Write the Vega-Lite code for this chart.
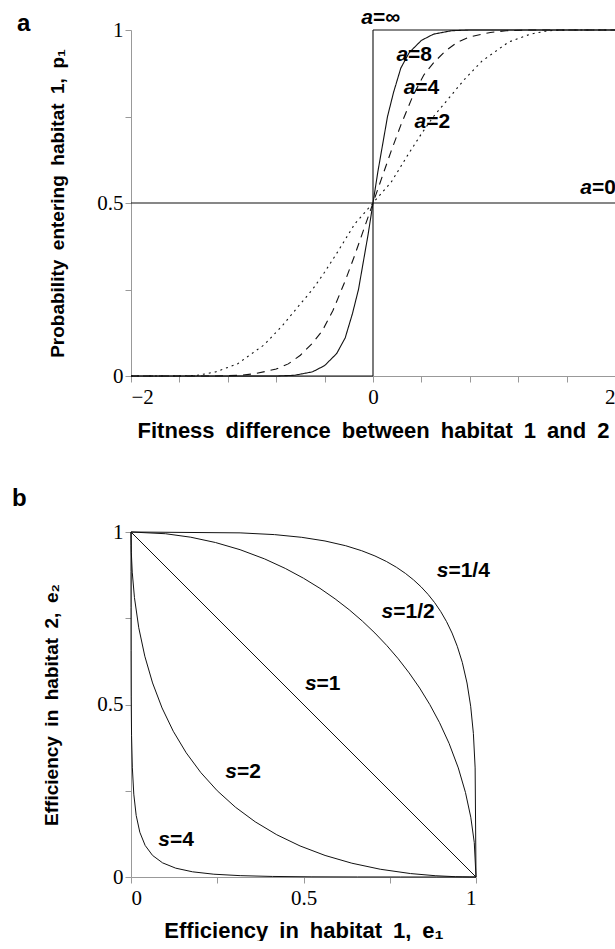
{
  "$schema": "https://vega.github.io/schema/vega-lite/v6.json",
  "padding": {"left": 12, "top": 6, "right": 0, "bottom": 0},
  "spacing": 46,
  "align": "none",
  "background": "white",
  "config": {
    "view": {"stroke": null},
    "axis": {"grid": false, "domainColor": "#999", "tickColor": "#999", "tickSize": 6, "labelFont": "Liberation Serif", "labelFontSize": 21, "labelColor": "#000", "titleFont": "Liberation Sans", "titleFontSize": 19, "titleFontWeight": "bold", "titleColor": "#000", "labelPadding": 2},
    "title": {"font": "Liberation Sans", "fontSize": 24, "fontWeight": "bold", "color": "#000", "anchor": "start", "frame": "group"}
  },
  "datasets": {
    "A": [
      {"c":"inf","d":-2,"p":0,"i":0},{"c":"inf","d":0,"p":0,"i":1},{"c":"inf","d":0,"p":1,"i":2},{"c":"inf","d":2,"p":1,"i":3},
      {"c":"0","d":-2,"p":0.5,"i":0},{"c":"0","d":2,"p":0.5,"i":1},
      {"c":"8","d":-2,"p":0,"i":0},{"c":"8","d":-0.8,"p":0,"i":1},{"c":"8","d":-0.65,"p":0.002,"i":2},{"c":"8","d":-0.5,"p":0.012,"i":3},{"c":"8","d":-0.4,"p":0.03,"i":4},{"c":"8","d":-0.3,"p":0.065,"i":5},{"c":"8","d":-0.23,"p":0.11,"i":6},{"c":"8","d":-0.17,"p":0.18,"i":7},{"c":"8","d":-0.12,"p":0.25,"i":8},{"c":"8","d":-0.08,"p":0.33,"i":9},{"c":"8","d":-0.04,"p":0.41,"i":10},{"c":"8","d":0,"p":0.5,"i":11},{"c":"8","d":0.04,"p":0.59,"i":12},{"c":"8","d":0.08,"p":0.67,"i":13},{"c":"8","d":0.12,"p":0.75,"i":14},{"c":"8","d":0.17,"p":0.82,"i":15},{"c":"8","d":0.23,"p":0.89,"i":16},{"c":"8","d":0.3,"p":0.935,"i":17},{"c":"8","d":0.4,"p":0.97,"i":18},{"c":"8","d":0.5,"p":0.988,"i":19},{"c":"8","d":0.65,"p":0.998,"i":20},{"c":"8","d":0.8,"p":1,"i":21},{"c":"8","d":2,"p":1,"i":22},
      {"c":"4","d":-2,"p":0,"i":0},{"c":"4","d":-1.3,"p":0,"i":1},{"c":"4","d":-1.1,"p":0.002,"i":2},{"c":"4","d":-0.97,"p":0.007,"i":3},{"c":"4","d":-0.8,"p":0.02,"i":4},{"c":"4","d":-0.7,"p":0.035,"i":5},{"c":"4","d":-0.6,"p":0.06,"i":6},{"c":"4","d":-0.5,"p":0.095,"i":7},{"c":"4","d":-0.42,"p":0.13,"i":8},{"c":"4","d":-0.33,"p":0.19,"i":9},{"c":"4","d":-0.23,"p":0.275,"i":10},{"c":"4","d":-0.15,"p":0.35,"i":11},{"c":"4","d":-0.08,"p":0.42,"i":12},{"c":"4","d":0,"p":0.5,"i":13},{"c":"4","d":0.08,"p":0.58,"i":14},{"c":"4","d":0.15,"p":0.65,"i":15},{"c":"4","d":0.23,"p":0.725,"i":16},{"c":"4","d":0.33,"p":0.81,"i":17},{"c":"4","d":0.42,"p":0.87,"i":18},{"c":"4","d":0.5,"p":0.905,"i":19},{"c":"4","d":0.6,"p":0.94,"i":20},{"c":"4","d":0.7,"p":0.965,"i":21},{"c":"4","d":0.8,"p":0.98,"i":22},{"c":"4","d":0.97,"p":0.993,"i":23},{"c":"4","d":1.1,"p":0.998,"i":24},{"c":"4","d":1.3,"p":1,"i":25},{"c":"4","d":2,"p":1,"i":26},
      {"c":"2","d":-2,"p":0,"i":0},{"c":"2","d":-1.6,"p":0,"i":1},{"c":"2","d":-1.45,"p":0.002,"i":2},{"c":"2","d":-1.3,"p":0.012,"i":3},{"c":"2","d":-1.12,"p":0.035,"i":4},{"c":"2","d":-0.9,"p":0.09,"i":5},{"c":"2","d":-0.75,"p":0.145,"i":6},{"c":"2","d":-0.62,"p":0.2,"i":7},{"c":"2","d":-0.5,"p":0.25,"i":8},{"c":"2","d":-0.4,"p":0.3,"i":9},{"c":"2","d":-0.29,"p":0.36,"i":10},{"c":"2","d":-0.15,"p":0.44,"i":11},{"c":"2","d":0,"p":0.5,"i":12},{"c":"2","d":0.15,"p":0.56,"i":13},{"c":"2","d":0.29,"p":0.64,"i":14},{"c":"2","d":0.4,"p":0.7,"i":15},{"c":"2","d":0.5,"p":0.75,"i":16},{"c":"2","d":0.62,"p":0.8,"i":17},{"c":"2","d":0.75,"p":0.855,"i":18},{"c":"2","d":0.9,"p":0.91,"i":19},{"c":"2","d":1.12,"p":0.965,"i":20},{"c":"2","d":1.3,"p":0.988,"i":21},{"c":"2","d":1.45,"p":0.998,"i":22},{"c":"2","d":1.6,"p":1,"i":23},{"c":"2","d":2,"p":1,"i":24}
    ],
    "LA": [
      {"v":"a","r":"=∞","d":0,"p":1.035},
      {"v":"a","r":"=8","d":0.29,"p":0.928},
      {"v":"a","r":"=4","d":0.35,"p":0.832},
      {"v":"a","r":"=2","d":0.44,"p":0.734},
      {"v":"a","r":"=0","d":1.81,"p":0.543}
    ],
    "B": [
      {"s":"1","e1":0,"e2":1,"i":0},{"s":"1","e1":1,"e2":0,"i":1},
      {"s":"2","e1":0,"e2":1,"i":0},{"s":"2","e1":0.0001,"e2":0.9801,"i":1},{"s":"2","e1":0.0009,"e2":0.9409,"i":2},{"s":"2","e1":0.0036,"e2":0.8836,"i":3},{"s":"2","e1":0.01,"e2":0.81,"i":4},{"s":"2","e1":0.0225,"e2":0.7225,"i":5},{"s":"2","e1":0.04,"e2":0.64,"i":6},{"s":"2","e1":0.0625,"e2":0.5625,"i":7},{"s":"2","e1":0.09,"e2":0.49,"i":8},{"s":"2","e1":0.1225,"e2":0.4225,"i":9},{"s":"2","e1":0.16,"e2":0.36,"i":10},{"s":"2","e1":0.2025,"e2":0.3025,"i":11},{"s":"2","e1":0.25,"e2":0.25,"i":12},{"s":"2","e1":0.3025,"e2":0.2025,"i":13},{"s":"2","e1":0.36,"e2":0.16,"i":14},{"s":"2","e1":0.4225,"e2":0.1225,"i":15},{"s":"2","e1":0.49,"e2":0.09,"i":16},{"s":"2","e1":0.5625,"e2":0.0625,"i":17},{"s":"2","e1":0.64,"e2":0.04,"i":18},{"s":"2","e1":0.7225,"e2":0.0225,"i":19},{"s":"2","e1":0.81,"e2":0.01,"i":20},{"s":"2","e1":0.8836,"e2":0.0036,"i":21},{"s":"2","e1":0.9409,"e2":0.0009,"i":22},{"s":"2","e1":0.9801,"e2":0.0001,"i":23},{"s":"2","e1":1,"e2":0,"i":24},
      {"s":"4","e1":0,"e2":1,"i":0},{"s":"4","e1":0.00000001,"e2":0.9606,"i":1},{"s":"4","e1":0.00000081,"e2":0.8853,"i":2},{"s":"4","e1":0.000013,"e2":0.7807,"i":3},{"s":"4","e1":0.0001,"e2":0.6561,"i":4},{"s":"4","e1":0.000506,"e2":0.522,"i":5},{"s":"4","e1":0.0016,"e2":0.4096,"i":6},{"s":"4","e1":0.0039,"e2":0.3164,"i":7},{"s":"4","e1":0.0081,"e2":0.2401,"i":8},{"s":"4","e1":0.015,"e2":0.1785,"i":9},{"s":"4","e1":0.0256,"e2":0.1296,"i":10},{"s":"4","e1":0.041,"e2":0.0915,"i":11},{"s":"4","e1":0.0625,"e2":0.0625,"i":12},{"s":"4","e1":0.0915,"e2":0.041,"i":13},{"s":"4","e1":0.1296,"e2":0.0256,"i":14},{"s":"4","e1":0.1785,"e2":0.015,"i":15},{"s":"4","e1":0.2401,"e2":0.0081,"i":16},{"s":"4","e1":0.3164,"e2":0.0039,"i":17},{"s":"4","e1":0.4096,"e2":0.0016,"i":18},{"s":"4","e1":0.522,"e2":0.000506,"i":19},{"s":"4","e1":0.6561,"e2":0.0001,"i":20},{"s":"4","e1":0.7807,"e2":0.000013,"i":21},{"s":"4","e1":0.8853,"e2":0.00000081,"i":22},{"s":"4","e1":0.9606,"e2":0.00000001,"i":23},{"s":"4","e1":1,"e2":0,"i":24},
      {"s":"1/2","e1":0,"e2":1,"i":0},{"s":"1/2","e1":0.1,"e2":0.995,"i":1},{"s":"1/2","e1":0.1732,"e2":0.9849,"i":2},{"s":"1/2","e1":0.2449,"e2":0.9695,"i":3},{"s":"1/2","e1":0.3162,"e2":0.9487,"i":4},{"s":"1/2","e1":0.3873,"e2":0.922,"i":5},{"s":"1/2","e1":0.4472,"e2":0.8944,"i":6},{"s":"1/2","e1":0.5,"e2":0.866,"i":7},{"s":"1/2","e1":0.5477,"e2":0.8367,"i":8},{"s":"1/2","e1":0.5916,"e2":0.8062,"i":9},{"s":"1/2","e1":0.6325,"e2":0.7746,"i":10},{"s":"1/2","e1":0.6708,"e2":0.7416,"i":11},{"s":"1/2","e1":0.7071,"e2":0.7071,"i":12},{"s":"1/2","e1":0.7416,"e2":0.6708,"i":13},{"s":"1/2","e1":0.7746,"e2":0.6325,"i":14},{"s":"1/2","e1":0.8062,"e2":0.5916,"i":15},{"s":"1/2","e1":0.8367,"e2":0.5477,"i":16},{"s":"1/2","e1":0.866,"e2":0.5,"i":17},{"s":"1/2","e1":0.8944,"e2":0.4472,"i":18},{"s":"1/2","e1":0.922,"e2":0.3873,"i":19},{"s":"1/2","e1":0.9487,"e2":0.3162,"i":20},{"s":"1/2","e1":0.9695,"e2":0.2449,"i":21},{"s":"1/2","e1":0.9849,"e2":0.1732,"i":22},{"s":"1/2","e1":0.995,"e2":0.1,"i":23},{"s":"1/2","e1":1,"e2":0,"i":24},
      {"s":"1/4","e1":0,"e2":1,"i":0},{"s":"1/4","e1":0.3162,"e2":0.9975,"i":1},{"s":"1/4","e1":0.4162,"e2":0.9924,"i":2},{"s":"1/4","e1":0.4949,"e2":0.9846,"i":3},{"s":"1/4","e1":0.5623,"e2":0.974,"i":4},{"s":"1/4","e1":0.6223,"e2":0.9602,"i":5},{"s":"1/4","e1":0.6687,"e2":0.9457,"i":6},{"s":"1/4","e1":0.7071,"e2":0.9306,"i":7},{"s":"1/4","e1":0.7401,"e2":0.9147,"i":8},{"s":"1/4","e1":0.7692,"e2":0.8979,"i":9},{"s":"1/4","e1":0.7953,"e2":0.8801,"i":10},{"s":"1/4","e1":0.819,"e2":0.8612,"i":11},{"s":"1/4","e1":0.8409,"e2":0.8409,"i":12},{"s":"1/4","e1":0.8612,"e2":0.819,"i":13},{"s":"1/4","e1":0.8801,"e2":0.7953,"i":14},{"s":"1/4","e1":0.8979,"e2":0.7692,"i":15},{"s":"1/4","e1":0.9147,"e2":0.7401,"i":16},{"s":"1/4","e1":0.9306,"e2":0.7071,"i":17},{"s":"1/4","e1":0.9457,"e2":0.6687,"i":18},{"s":"1/4","e1":0.9602,"e2":0.6223,"i":19},{"s":"1/4","e1":0.974,"e2":0.5623,"i":20},{"s":"1/4","e1":0.9846,"e2":0.4949,"i":21},{"s":"1/4","e1":0.9924,"e2":0.4162,"i":22},{"s":"1/4","e1":0.9975,"e2":0.3162,"i":23},{"s":"1/4","e1":1,"e2":0,"i":24}
    ],
    "LB": [
      {"v":"s","r":"=1/4","e1":0.92,"e2":0.887},
      {"v":"s","r":"=1/2","e1":0.76,"e2":0.768},
      {"v":"s","r":"=1","e1":0.538,"e2":0.56},
      {"v":"s","r":"=2","e1":0.307,"e2":0.304},
      {"v":"s","r":"=4","e1":0.113,"e2":0.107}
    ]
  },
  "vconcat": [
    {
      "width": 484,
      "height": 346,
      "title": {"text": "a", "dx": -114, "offset": -29},
      "layer": [
        {
          "data": {"name": "A"},
          "mark": {"type": "line", "color": "#111", "strokeWidth": 1.1, "clip": false},
          "encoding": {
            "x": {"field": "d", "type": "quantitative", "scale": {"domain": [-2, 2], "nice": false, "zero": false},
                  "axis": {"title": "Fitness\u2002difference\u2002between\u2002habitat\u20021\u2002and\u20022", "titleFontSize": 22, "values": [-2, -1.6, -1.2, -0.8, -0.4, 0, 0.4, 0.8, 1.2, 1.6, 2], "labelExpr": "datum.value < -1.9 ? '−2' : datum.value > 1.9 ? '2' : abs(datum.value) < 0.01 ? '0' : ''", "labelPadding": 4, "titlePadding": 13}},
            "y": {"field": "p", "type": "quantitative", "scale": {"domain": [0, 1], "nice": false},
                  "axis": {"title": "Probability\u2002entering\u2002habitat\u20021,\u2002p₁", "values": [0, 0.25, 0.5, 0.75, 1], "labelExpr": "datum.value == 0 ? '0' : datum.value == 0.5 ? '0.5' : datum.value == 1 ? '1' : ''", "titlePadding": 29}},
            "detail": {"field": "c"},
            "order": {"field": "i", "type": "quantitative"},
            "strokeDash": {"field": "c", "type": "nominal", "legend": null,
                           "scale": {"domain": ["inf", "0", "8", "4", "2"], "range": [[1, 0], [1, 0], [1, 0], [8, 6], [2, 4]]}}
          }
        },
        {
          "data": {"name": "LA"},
          "mark": {"type": "text", "font": "Liberation Sans", "fontSize": 21, "fontWeight": "bold", "fontStyle": "italic", "align": "right", "baseline": "middle", "color": "#000"},
          "encoding": {"x": {"field": "d", "type": "quantitative"}, "y": {"field": "p", "type": "quantitative"}, "text": {"field": "v"}}
        },
        {
          "data": {"name": "LA"},
          "mark": {"type": "text", "font": "Liberation Sans", "fontSize": 21, "fontWeight": "bold", "align": "left", "baseline": "middle", "color": "#000"},
          "encoding": {"x": {"field": "d", "type": "quantitative"}, "y": {"field": "p", "type": "quantitative"}, "text": {"field": "r"}}
        }
      ]
    },
    {
      "width": 345,
      "height": 345,
      "title": {"text": "b", "dx": -119, "offset": 10},
      "layer": [
        {
          "data": {"name": "B"},
          "mark": {"type": "line", "color": "#111", "strokeWidth": 1, "clip": false},
          "encoding": {
            "x": {"field": "e1", "type": "quantitative", "scale": {"domain": [0, 1], "nice": false},
                  "axis": {"title": "Efficiency\u2002in\u2002habitat\u20021,\u2002e₁", "titleFontSize": 22, "values": [0, 0.25, 0.5, 0.75, 1], "labelExpr": "datum.value == 0 ? '0' : datum.value == 0.5 ? '0.5' : datum.value == 1 ? '1' : ''", "labelPadding": 4, "titlePadding": 12}},
            "y": {"field": "e2", "type": "quantitative", "scale": {"domain": [0, 1], "nice": false},
                  "axis": {"title": "Efficiency\u2002in\u2002habitat\u20022,\u2002e₂", "values": [0, 0.25, 0.5, 0.75, 1], "labelExpr": "datum.value == 0 ? '0' : datum.value == 0.5 ? '0.5' : datum.value == 1 ? '1' : ''", "titlePadding": 35}},
            "detail": {"field": "s"},
            "order": {"field": "i", "type": "quantitative"}
          }
        },
        {
          "data": {"name": "LB"},
          "mark": {"type": "text", "font": "Liberation Sans", "fontSize": 21, "fontWeight": "bold", "fontStyle": "italic", "align": "right", "baseline": "middle", "color": "#000"},
          "encoding": {"x": {"field": "e1", "type": "quantitative"}, "y": {"field": "e2", "type": "quantitative"}, "text": {"field": "v"}}
        },
        {
          "data": {"name": "LB"},
          "mark": {"type": "text", "font": "Liberation Sans", "fontSize": 21, "fontWeight": "bold", "align": "left", "baseline": "middle", "color": "#000"},
          "encoding": {"x": {"field": "e1", "type": "quantitative"}, "y": {"field": "e2", "type": "quantitative"}, "text": {"field": "r"}}
        }
      ]
    }
  ]
}
